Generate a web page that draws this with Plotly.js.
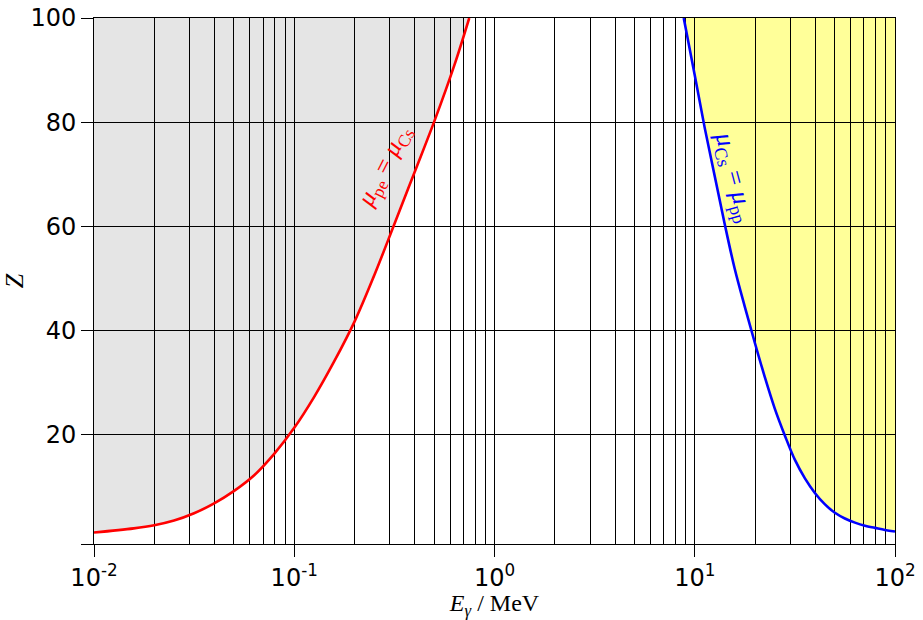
<!DOCTYPE html>
<html>
<head>
<meta charset="utf-8">
<script src="https://cdn.plot.ly/plotly-3.0.1.min.js"></script>
<style>html,body{margin:0;padding:0;background:#fff;}#chart{width:923px;height:620px;}</style>
</head>
<body>
<div id="chart"></div>
<script>
// Photoelectric = Compton boundary (red)
const peEnergy = [0.01, 0.0158, 0.02, 0.0251, 0.0316, 0.0398, 0.0501, 0.0631, 0.0794, 0.1, 0.126, 0.158, 0.2, 0.251, 0.316, 0.398, 0.501, 0.631, 0.748];
const peZ      = [1.2,  2.0,    2.6,  3.5,    4.9,    6.8,    9.2,    12.2,   16.3,   21.3, 27.3, 34.0,  41.7, 50.6, 60.4, 70.3, 80.2, 91.0, 100];
// Compton = pair production boundary (blue)
const ppEnergy = [8.81, 10, 11.2, 12.6, 14.1, 15.8, 17.8, 20.0, 22.4, 25.1, 28.2, 31.6, 35.5, 39.8, 44.7, 50.1, 56.2, 63.1, 70.8, 79.4, 89.1, 100];
const ppZ      = [100,  89, 79,   69.5, 60.5, 52,   44.5, 37.5, 31,   25,   19.8, 15.2, 11.6, 8.8,  6.6,  5.0,  3.9,  3.1,  2.5,  2.1,  1.7,  1.4];
// axes
const xMajorTicks = [0.01, 0.1, 1, 10, 100];
const xMajorText  = ['10<sup>-2</sup>', '10<sup>-1</sup>', '10<sup>0</sup>', '10<sup>1</sup>', '10<sup>2</sup>'];
const yTicks = [20, 40, 60, 80, 100];
const yTickText = ['20', '40', '60', '80', '100'];
const yBottom = -1;
const zTop = 100;

const xMinorTicks = [];
[0.01, 0.1, 1, 10].forEach(d => { for (let k = 2; k <= 9; k++) xMinorTicks.push(+(d * k).toPrecision(3)); });

function regionPath(xs, ys, closing) {
  let p = '';
  xs.forEach((x, i) => { p += (i === 0 ? 'M' : 'L') + x + ',' + ys[i] + ' '; });
  closing.forEach(c => { p += 'L' + c[0] + ',' + c[1] + ' '; });
  return p + 'Z';
}
const grayPath = regionPath(peEnergy, peZ, [[peEnergy[peEnergy.length - 1], zTop], [peEnergy[0], zTop]]);
const yellowPath = regionPath(ppEnergy, ppZ, [[ppEnergy[ppEnergy.length - 1], zTop], [ppEnergy[0], zTop]]);

const traces = [
  {x: peEnergy, y: peZ, mode: 'lines', line: {color: '#ff0000', width: 2.6, shape: 'spline', smoothing: 1}, hoverinfo: 'skip'},
  {x: ppEnergy, y: ppZ, mode: 'lines', line: {color: '#0000ff', width: 2.6, shape: 'spline', smoothing: 1}, hoverinfo: 'skip'}
];

const serif = '"Liberation Serif", "DejaVu Serif", serif';
const sans = '"DejaVu Sans", sans-serif';

const layout = {
  width: 923, height: 620,
  margin: {l: 94, r: 28, t: 18, b: 76},
  paper_bgcolor: '#ffffff', plot_bgcolor: '#ffffff',
  showlegend: false,
  xaxis: {
    type: 'log', range: [-2, 2],
    tickmode: 'array', tickvals: xMajorTicks, ticktext: xMajorText,
    ticks: 'outside', ticklen: 12, tickwidth: 1, tickcolor: '#000',
    showgrid: true, gridcolor: '#000', gridwidth: 1,
    minor: {tickmode: 'array', tickvals: xMinorTicks, showgrid: true, gridcolor: '#000', gridwidth: 1, ticks: ''},
    showline: true, linecolor: '#000', linewidth: 1, mirror: true,
    zeroline: false,
    tickfont: {family: sans, size: 24, color: '#000'},
    title: {text: '<i>E</i><sub><i>γ</i></sub> / MeV', font: {family: serif, size: 24, color: '#000'}, standoff: 4}
  },
  yaxis: {
    range: [yBottom, 100],
    tickmode: 'array', tickvals: yTicks, ticktext: yTickText,
    ticks: 'outside', ticklen: 12, tickwidth: 1, tickcolor: '#000',
    showgrid: true, gridcolor: '#000', gridwidth: 1,
    minor: {tickmode: 'array', tickvals: [yBottom], ticks: 'outside', ticklen: 12, tickwidth: 1, tickcolor: '#000', showgrid: false},
    showline: true, linecolor: '#000', linewidth: 1, mirror: true,
    zeroline: false,
    tickfont: {family: sans, size: 24, color: '#000'},
    ticklabelstandoff: 0,
    title: {text: '<i>Z</i>', font: {family: serif, size: 26, color: '#000'}, standoff: 18}
  },
  shapes: [
    {type: 'path', xref: 'x', yref: 'y', path: grayPath, fillcolor: '#e5e5e5', line: {width: 0}, layer: 'below'},
    {type: 'path', xref: 'x', yref: 'y', path: yellowPath, fillcolor: '#ffff99', line: {width: 0}, layer: 'below'}
  ],
  annotations: [
    {xref: 'x', yref: 'y', x: Math.log10(0.283), y: 71.5, showarrow: false, textangle: -63,
     text: '<i>μ</i><sub>pe</sub> = <i>μ</i><sub>Cs</sub>', font: {family: serif, size: 25, color: '#ff0000'}},
    {xref: 'x', yref: 'y', x: Math.log10(15.7), y: 69.5, showarrow: false, textangle: 75,
     text: '<i>μ</i><sub>Cs</sub> = <i>μ</i><sub>pp</sub>', font: {family: serif, size: 26, color: '#0000ff'}}
  ]
};

Plotly.newPlot('chart', traces, layout, {staticPlot: true, displayModeBar: false});
</script>
</body>
</html>
